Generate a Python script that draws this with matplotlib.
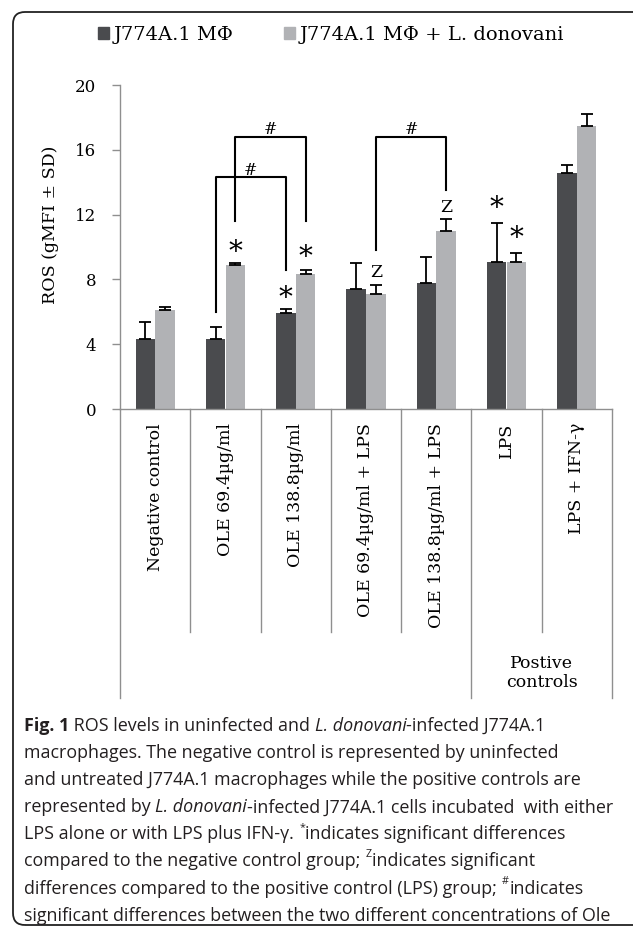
import matplotlib
matplotlib.use('Agg')
import matplotlib.pyplot as plt
from matplotlib.patches import Patch, FancyBboxPatch
from matplotlib.text import Annotation
import numpy as np

# --- fonts / colours ---
SERIF = 'DejaVu Serif'
SANS = 'Open Sans'
DARK = '#4a4b4e'
LIGHT = '#b1b2b5'
AXIS_GRAY = '#8f8f8f'
CAP_COLOR = '#231f20'

# --- data ---
categories = ['Negative control', 'OLE 69.4µg/ml', 'OLE 138.8µg/ml',
              'OLE 69.4µg/ml + LPS', 'OLE 138.8µg/ml + LPS', 'LPS', 'LPS + IFN-γ']
ros_uninf = [4.3, 4.3, 5.95, 7.4, 7.75, 9.1, 14.55]
ros_uninf_sd = [1.1, 0.75, 0.25, 1.6, 1.65, 2.4, 0.5]
ros_inf = [6.1, 8.9, 8.35, 7.1, 11.0, 9.1, 17.5]
ros_inf_sd = [0.2, 0.1, 0.2, 0.55, 0.7, 0.55, 0.7]
series_labels = ['J774A.1 MΦ', 'J774A.1 MΦ + L. donovani']
yticks = [0, 4, 8, 12, 16, 20]

# significance marks: (category, series 0/1, height)
star_marks = [(1, 1, 10.2), (2, 0, 7.35), (2, 1, 9.9), (5, 0, 12.9), (5, 1, 11.05)]
z_marks = [(3, 1, 8.45), (4, 1, 12.45)]
# brackets: (cat_a, ser_a, y_a, cat_b, ser_b, y_b, y_top)
brackets = [(1, 0, 6.0, 2, 0, 8.55, 14.3),
            (1, 1, 11.6, 2, 1, 11.6, 16.8),
            (3, 1, 9.8, 4, 1, 13.5, 16.8)]

caption = [
    [('Fig. 1', 'b'), (' ROS levels in uninfected and ', 'r'), ('L. donovani', 'i'), ('-infected J774A.1', 'r')],
    [('macrophages. The negative control is represented by uninfected', 'r')],
    [('and untreated J774A.1 macrophages while the positive controls are', 'r')],
    [('represented by ', 'r'), ('L. donovani', 'i'), ('-infected J774A.1 cells incubated  with either', 'r')],
    [('LPS alone or with LPS plus IFN-γ. ', 'r'), ('*', 'sup'), ('indicates significant differences', 'r')],
    [('compared to the negative control group; ', 'r'), ('Z', 'sup'), ('indicates significant', 'r')],
    [('differences compared to the positive control (LPS) group; ', 'r'), ('#', 'sup'), ('indicates', 'r')],
    [('significant differences between the two different concentrations of Ole', 'r')],
]

W, H = 633, 927
fig = plt.figure(figsize=(W / 100, H / 100), dpi=100)
ax = fig.add_axes([120 / W, (H - 409) / H, 492 / W, 324 / H])

x = np.arange(len(categories))
bw = 0.277
off = 0.14
xs = [x - off, x + off]

ax.bar(xs[0], ros_uninf, bw, color=DARK, zorder=2)
ax.bar(xs[1], ros_inf, bw, color=LIGHT, zorder=2)
for xx, vals, sd in [(xs[0], ros_uninf, ros_uninf_sd), (xs[1], ros_inf, ros_inf_sd)]:
    ax.errorbar(xx, vals, yerr=[np.zeros(len(vals)), sd], fmt='none', ecolor='black',
                elinewidth=1.3, capsize=4, capthick=1.3, zorder=3)

ax.set_xlim(-0.5, 6.5)
ax.set_ylim(0, 20)
for s in ['top', 'right']:
    ax.spines[s].set_visible(False)
for s in ['left', 'bottom']:
    ax.spines[s].set_color(AXIS_GRAY)
    ax.spines[s].set_linewidth(1.0)
ax.set_xticks([])
ax.set_yticks(yticks)
ax.set_yticklabels([str(t) for t in yticks], family=SERIF, fontsize=12)
ax.tick_params(axis='y', direction='out', length=6, color=AXIS_GRAY, width=1.0, pad=11)

ax.text(-0.142, 0.568, 'ROS (gMFI ± SD)', transform=ax.transAxes, rotation=90,
        ha='center', va='center', family=SERIF, fontsize=12.5)

# category separators and labels below the axis
xtr = ax.get_xaxis_transform()
for b in np.arange(-0.5, 7.0, 1.0):
    low = -0.892 if b in (-0.5, 4.5, 6.5) else -0.688
    ax.plot([b, b], [0, low], transform=xtr, clip_on=False, color=AXIS_GRAY, lw=1.0)
for i, c in enumerate(categories):
    ax.text(i, -0.043, c, transform=xtr, rotation=90, ha='center', va='top',
            family=SERIF, fontsize=12.5)
ax.text(5.5, -0.815, 'Postive\ncontrols', transform=xtr, ha='center', va='center',
        family=SERIF, fontsize=12.5, linespacing=1.15)

# significance
for cat, ser, yv in star_marks:
    ax.text(xs[ser][cat], yv - 1.0, '*', ha='center', va='baseline', family=SERIF, fontsize=20)
for cat, ser, yv in z_marks:
    ax.text(xs[ser][cat], yv, 'Z', ha='center', va='center', family=SERIF, fontsize=12.5)
for ca, sa, ya, cb, sb, yb, yt in brackets:
    xa, xb = xs[sa][ca], xs[sb][cb]
    ax.plot([xa, xa, xb, xb], [ya, yt, yt, yb], color='black', lw=1.5, zorder=4)
    ax.text((xa + xb) / 2, yt - 0.1, '#', ha='center', va='bottom', family=SERIF, fontsize=11.5)

# legend
handles = [Patch(color=DARK), Patch(color=LIGHT)]
fig.legend(handles, series_labels, loc='center', bbox_to_anchor=(0.523, 1 - 35 / H), ncol=2,
           frameon=False, handlelength=0.55, handleheight=0.55, handletextpad=0.25,
           columnspacing=2.6, prop={'family': SERIF, 'size': 14})

# rounded frame around figure
frame = FancyBboxPatch((0.13, 0.02), 6.6, 9.13, boxstyle='round,pad=0,rounding_size=0.12',
                       transform=fig.dpi_scale_trans, fill=False, lw=1.3, ec='#222222')
fig.patches.append(frame)

# caption
CAP_SIZE = 12.9


def caption_line(y_px, chunks):
    base = None
    prev = None
    for txt, style in chunks:
        kw = dict(fontsize=CAP_SIZE, family=SANS, color=CAP_COLOR)
        if style == 'b':
            kw['fontweight'] = 'bold'
        if style == 'i':
            kw['fontstyle'] = 'italic'
        if base is None:
            t = fig.text(24 / W, 1 - y_px / H, txt, ha='left', va='bottom', **kw)
            base = t
        elif style == 'sup':
            kw['fontsize'] = CAP_SIZE * 0.6
            t = Annotation(txt, xy=(1, 0), xycoords=(prev, base), xytext=(0.5, 7.5),
                           textcoords='offset points', ha='left', va='bottom', **kw)
            fig.add_artist(t)
        else:
            t = Annotation(txt, xy=(1, 0), xycoords=(prev, base), ha='left', va='bottom', **kw)
            fig.add_artist(t)
        prev = t


for k, chunks in enumerate(caption):
    caption_line(735 + 27.1 * k, chunks)

fig.savefig('out.png', dpi=100)
